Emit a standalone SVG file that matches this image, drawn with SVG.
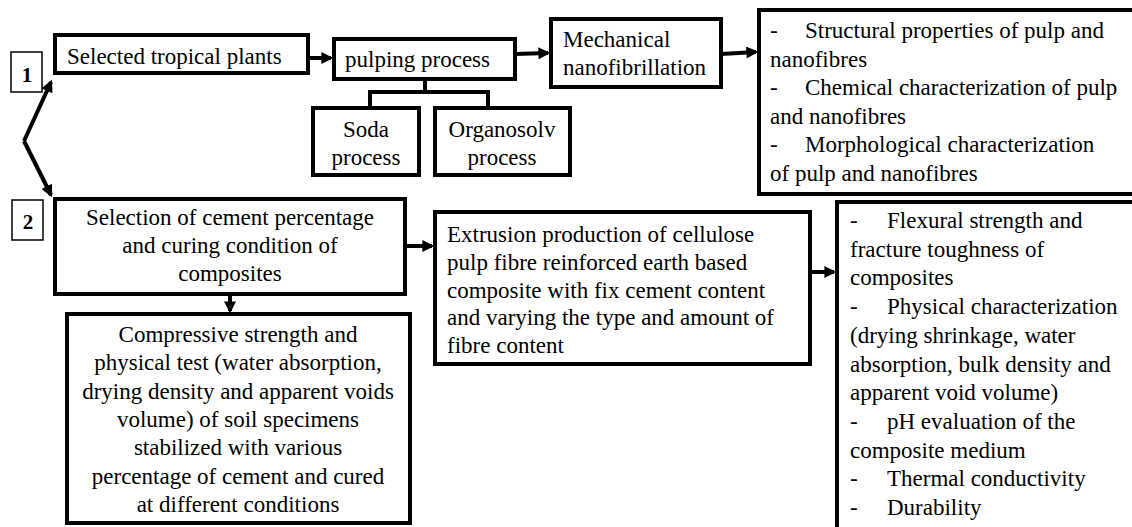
<svg xmlns="http://www.w3.org/2000/svg" width="1132" height="527" viewBox="0 0 1132 527">
<defs>
<marker id="ah" viewBox="0 0 10 10" refX="8" refY="5" markerWidth="3.2" markerHeight="3" orient="auto" markerUnits="strokeWidth">
<path d="M0,0 L10,5 L0,10 z" fill="#000"/>
</marker>
</defs>
<style>
.box{fill:#fff;stroke:#000;stroke-width:4}
.num{fill:#fff;stroke:#000;stroke-width:1.5}
.ln{fill:none;stroke:#000;stroke-width:4}
.ar{fill:none;stroke:#000;stroke-width:4;marker-end:url(#ah)}
</style>
<rect width="1132" height="527" fill="#fff"/>

<g id="label1"><rect class="num" x="11" y="52" width="31" height="40"/><text font-family="Liberation Serif" font-size="21" font-weight="bold" text-anchor="middle" x="27" y="82">1</text></g>
<g id="label2"><rect class="num" x="12" y="200" width="31" height="40"/><text font-family="Liberation Serif" font-size="21" font-weight="bold" text-anchor="middle" x="28" y="229">2</text></g>

<g id="connectors">
<path class="ar" d="M24,141 L51,82"/>
<path class="ar" d="M24,141 L51,195"/>
<path class="ar" d="M308,58 L331,58"/>
<path class="ar" d="M515,54 L548,53"/>
<path class="ar" d="M721,54 L756,52"/>
<path class="ln" d="M425,79 L425,92 M368,92 L490,92 M370,92 L370,108 M488,92 L488,108"/>
<path class="ar" d="M230,294 L230,311"/>
<path class="ar" d="M405,246 L432,246"/>
<path class="ar" d="M810,272 L834,272"/>
</g>

<g id="selected-plants"><rect class="box" x="55" y="35" width="253" height="38"/><text font-family="Liberation Serif" font-size="23" x="67" y="64">Selected tropical plants</text></g>
<g id="pulping"><rect class="box" x="334" y="39" width="181" height="40"/><text font-family="Liberation Serif" font-size="23" x="345" y="67">pulping process</text></g>
<g id="mechanical"><rect class="box" x="551" y="19" width="170" height="68"/><text font-family="Liberation Serif" font-size="23" x="563" y="47">Mechanical</text><text font-family="Liberation Serif" font-size="23" x="563" y="75">nanofibrillation</text></g>
<g id="soda"><rect class="box" x="313" y="108" width="106" height="67"/><text font-family="Liberation Serif" font-size="23" text-anchor="middle" x="366" y="137">Soda</text><text font-family="Liberation Serif" font-size="23" text-anchor="middle" x="366" y="165">process</text></g>
<g id="organosolv"><rect class="box" x="435" y="108" width="135" height="67"/><text font-family="Liberation Serif" font-size="23" text-anchor="middle" x="502" y="137">Organosolv</text><text font-family="Liberation Serif" font-size="23" text-anchor="middle" x="502" y="165">process</text></g>

<g id="results-1"><rect class="box" x="759" y="10" width="390" height="184"/>
<text font-family="Liberation Serif" font-size="23" x="770" y="38">-</text><text font-family="Liberation Serif" font-size="23" x="805" y="38">Structural properties of pulp and</text>
<text font-family="Liberation Serif" font-size="23" x="770" y="66.5">nanofibres</text>
<text font-family="Liberation Serif" font-size="23" x="770" y="95">-</text><text font-family="Liberation Serif" font-size="23" x="805" y="95">Chemical characterization of pulp</text>
<text font-family="Liberation Serif" font-size="23" x="770" y="123.5">and nanofibres</text>
<text font-family="Liberation Serif" font-size="23" x="770" y="152">-</text><text font-family="Liberation Serif" font-size="23" x="805" y="152">Morphological characterization</text>
<text font-family="Liberation Serif" font-size="23" x="770" y="180.5">of pulp and nanofibres</text>
</g>

<g id="selection-cement"><rect class="box" x="55" y="199" width="350" height="95"/>
<text font-family="Liberation Serif" font-size="23" text-anchor="middle" x="230" y="225">Selection of cement percentage</text>
<text font-family="Liberation Serif" font-size="23" text-anchor="middle" x="230" y="253">and curing condition of</text>
<text font-family="Liberation Serif" font-size="23" text-anchor="middle" x="230" y="281">composites</text>
</g>

<g id="compressive"><rect class="box" x="67" y="314" width="343" height="209"/>
<text font-family="Liberation Serif" font-size="23" text-anchor="middle" x="238" y="342">Compressive  strength and</text>
<text font-family="Liberation Serif" font-size="23" text-anchor="middle" x="238" y="370.3">physical test (water absorption,</text>
<text font-family="Liberation Serif" font-size="23" text-anchor="middle" x="238" y="398.6">drying density and apparent voids</text>
<text font-family="Liberation Serif" font-size="23" text-anchor="middle" x="238" y="427">volume) of soil specimens</text>
<text font-family="Liberation Serif" font-size="23" text-anchor="middle" x="238" y="455.3">stabilized with various</text>
<text font-family="Liberation Serif" font-size="23" text-anchor="middle" x="238" y="483.6">percentage of cement and cured</text>
<text font-family="Liberation Serif" font-size="23" text-anchor="middle" x="238" y="512">at different conditions</text>
</g>

<g id="extrusion"><rect class="box" x="435" y="212" width="375" height="152"/>
<text font-family="Liberation Serif" font-size="23" x="447" y="242">Extrusion production of cellulose</text>
<text font-family="Liberation Serif" font-size="23" x="447" y="269.7">pulp fibre reinforced earth based</text>
<text font-family="Liberation Serif" font-size="23" x="447" y="297.5">composite with fix cement content</text>
<text font-family="Liberation Serif" font-size="23" x="447" y="325.2">and varying the type and amount of</text>
<text font-family="Liberation Serif" font-size="23" x="447" y="353">fibre content</text>
</g>

<g id="results-2"><rect class="box" x="837" y="202" width="310" height="340"/>
<text font-family="Liberation Serif" font-size="23" x="850" y="228">-</text><text font-family="Liberation Serif" font-size="23" x="887" y="228">Flexural strength and</text>
<text font-family="Liberation Serif" font-size="23" x="850" y="256.7">fracture toughness of</text>
<text font-family="Liberation Serif" font-size="23" x="850" y="285.4">composites</text>
<text font-family="Liberation Serif" font-size="23" x="850" y="314.1">-</text><text font-family="Liberation Serif" font-size="23" x="887" y="314.1">Physical characterization</text>
<text font-family="Liberation Serif" font-size="23" x="850" y="342.8">(drying shrinkage, water</text>
<text font-family="Liberation Serif" font-size="23" x="850" y="371.5">absorption, bulk density and</text>
<text font-family="Liberation Serif" font-size="23" x="850" y="400.2">apparent void volume)</text>
<text font-family="Liberation Serif" font-size="23" x="850" y="428.9">-</text><text font-family="Liberation Serif" font-size="23" x="887" y="428.9">pH evaluation of the</text>
<text font-family="Liberation Serif" font-size="23" x="850" y="457.6">composite medium</text>
<text font-family="Liberation Serif" font-size="23" x="850" y="486.3">-</text><text font-family="Liberation Serif" font-size="23" x="887" y="486.3">Thermal conductivity</text>
<text font-family="Liberation Serif" font-size="23" x="850" y="515">-</text><text font-family="Liberation Serif" font-size="23" x="887" y="515">Durability</text>
</g>
</svg>
